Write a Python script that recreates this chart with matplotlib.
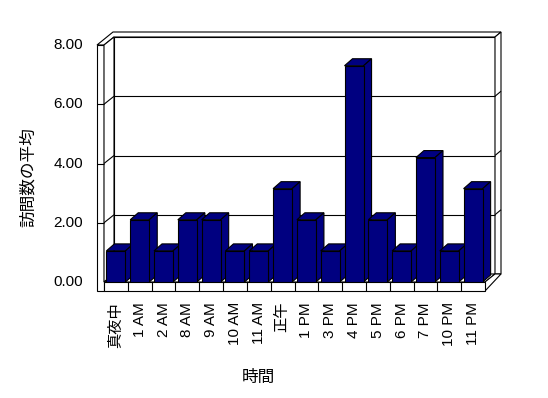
import matplotlib
matplotlib.use('Agg')
import matplotlib.pyplot as plt
from matplotlib.patches import Polygon

plt.rcParams['font.family'] = ['Liberation Sans', 'Noto Sans CJK JP']

# data
hours = ['真夜中', '1 AM', '2 AM', '8 AM', '9 AM', '10 AM', '11 AM', '正午',
         '1 PM', '3 PM', '4 PM', '5 PM', '6 PM', '7 PM', '10 PM', '11 PM']
visits = [1.05, 2.1, 1.05, 2.1, 2.1, 1.05, 1.05, 3.15,
          2.1, 1.05, 7.3, 2.1, 1.05, 4.2, 1.05, 3.15]
yticks = [0, 2, 4, 6, 8]

W, H = 548, 398
fig = plt.figure(figsize=(W / 100, H / 100), dpi=100)
# front plane of the 3d box, in pixels
x0, x1, y0, y1 = 104, 485, 282, 45
ax = fig.add_axes([x0 / W, 1 - y0 / H, (x1 - x0) / W, (y0 - y1) / H])
n = len(hours)
ax.set_xlim(-0.5, n - 0.5)
ax.set_ylim(0, 8)
ax.axis('off')

sx = (x1 - x0) / n          # px per category
sy = (y0 - y1) / 8          # px per unit
wx, wy = 10 / sx, 8 / sy    # depth of the floor / walls
tx, ty = 6 / sx, 5 / sy     # wall thickness
lw_x, fs = 7 / sx, 9 / sy   # left wall and floor thickness
bx, by = 8 / sx, 7 / sy     # bar depth
L, R = -0.5, n - 0.5
lc = 'black'
lw = 0.8

def poly(pts, fc='white', z=1):
    ax.add_patch(Polygon(pts, closed=True, facecolor=fc, edgecolor=lc,
                         linewidth=lw, zorder=z, clip_on=False))

def line(xs, ys, z=1.5):
    ax.plot(xs, ys, color=lc, linewidth=lw, zorder=z, clip_on=False,
            solid_capstyle='butt')

# back wall
poly([(L + wx, wy), (R + wx, wy), (R + wx, 8 + wy), (L + wx, 8 + wy)])
# back wall top and right thickness
poly([(L - lw_x, 8), (L, 8), (L + wx, 8 + wy), (R + wx, 8 + wy),
      (R + wx + tx, 8 + wy + ty), (L - lw_x + wx + tx, 8 + wy + ty)])
poly([(R + wx, wy), (R + wx, 8 + wy), (R + wx + tx, 8 + wy + ty), (R + wx + tx, wy)])
# left wall front and inner face
poly([(L - lw_x, -fs), (L, -fs), (L, 8), (L - lw_x, 8)])
poly([(L, 0), (L, 8), (L + wx, 8 + wy), (L + wx, wy)])
# floor
poly([(L, 0), (R, 0), (R + wx, wy), (L + wx, wy)])
poly([(R, -fs), (R, 0), (R + wx, wy), (R + wx + tx, wy)])
poly([(L, -fs), (R, -fs), (R, 0), (L, 0)], z=1.2)
for i in range(n - 1):
    line([i + 0.5, i + 0.5], [-fs, 0], z=1.3)

# gridlines
for v in yticks[1:-1]:
    line([L + wx, R + wx], [v + wy, v + wy])
    line([L, L + wx], [v, v + wy])
    line([L - lw_x, L], [v, v])
    line([R + wx, R + wx + tx], [v + wy, v + wy + ty])

# bars
navy = '#000080'
bw = 0.8
bars = ax.bar(range(n), visits, width=bw, color=navy, edgecolor=lc, linewidth=lw)
for i, (b, v) in enumerate(zip(bars, visits)):
    z = 3 + i * 0.01
    b.set_zorder(z + 0.005)
    l, r = i - bw / 2, i + bw / 2
    poly([(l, v), (r, v), (r + bx, v + by), (l + bx, v + by)], fc=navy, z=z)
    poly([(r, 0), (r, v), (r + bx, v + by), (r + bx, by)], fc=navy, z=z)

# tick labels
for v in yticks:
    fig.text(83 / W, 1 - (y0 - v * sy) / H, f'{v:.2f}', ha='right', va='center',
             fontsize=11)
for i, h in enumerate(hours):
    ax.text(i, -fs - 11 / sy, h, rotation=90, ha='center', va='top',
            fontsize=11, clip_on=False)

fig.text(28 / W, 1 - 177 / H, '訪問数の平均', rotation=90, ha='center', va='center',
         fontsize=12)
fig.text(258 / W, 1 - 377 / H, '時間', ha='center', va='center', fontsize=12)

fig.savefig('out.png', dpi=100, facecolor='white')
